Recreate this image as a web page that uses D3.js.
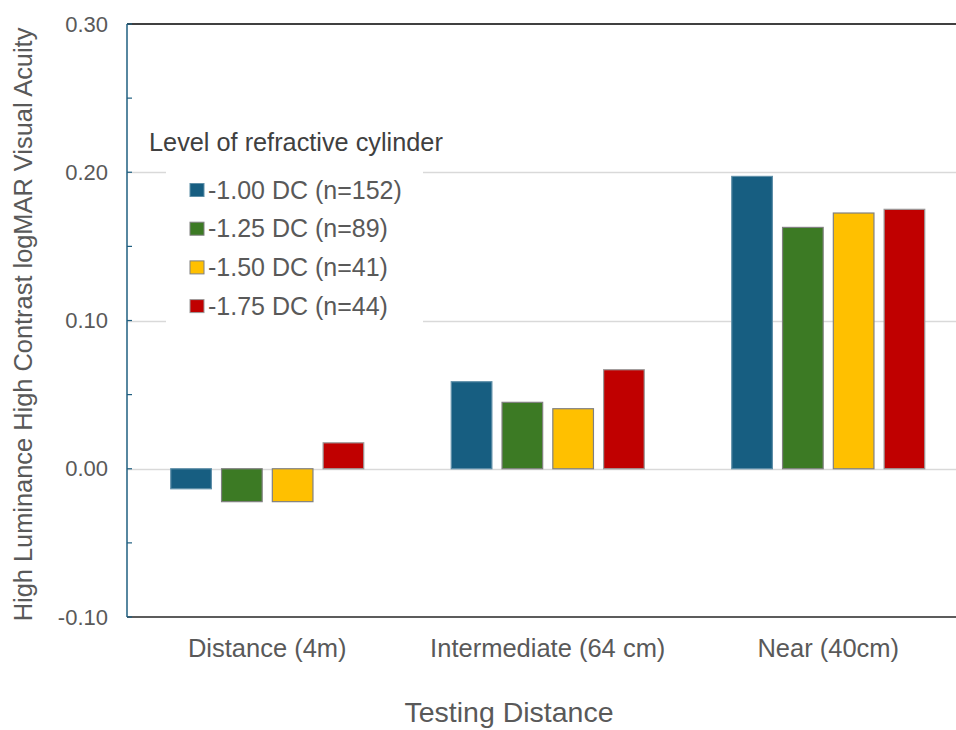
<!DOCTYPE html>
<html>
<head>
<meta charset="utf-8">
<script src="https://cdn.jsdelivr.net/npm/d3@7"></script>
<style>
  body { margin: 0; background: #fff; }
  svg { display: block; font-family: Arial, "Liberation Sans", sans-serif; }
</style>
</head>
<body>
<div id="chart"></div>
<script>
// categories and series
const categories = ['Distance (4m)', 'Intermediate (64 cm)', 'Near (40cm)'];
const seriesNames = ['-1.00 DC (n=152)', '-1.25 DC (n=89)', '-1.50 DC (n=41)', '-1.75 DC (n=44)'];
const seriesColors = ['#175e81', '#3c7a24', '#ffc000', '#c00000'];
const seriesStrokes = ['#5f8fa8', '#808080', '#808080', '#9a9a9a'];
const values = [
  [-0.0135, 0.0587, 0.1972], // -1.00 DC
  [-0.0222, 0.0448, 0.1628], // -1.25 DC
  [-0.0222, 0.0405, 0.1725], // -1.50 DC
  [0.0175, 0.0668, 0.1750], // -1.75 DC
];
const majorTicks = [-0.10, 0.00, 0.10, 0.20, 0.30];
const minorTicks = [-0.05, 0.05, 0.15, 0.25];
const gridTicks = [0.00, 0.10, 0.20];

const width = 956;
const height = 730;
const margin = { top: 24, left: 127, bottom: 113 };
const plotRight = 968.5; // plot area runs off the right edge
const groupWidth = 193;

const svg = d3.select('#chart')
  .append('svg')
  .attr('width', width)
  .attr('height', height);

const y = d3.scaleLinear()
  .domain([-0.10, 0.30])
  .range([height - margin.bottom, margin.top]);

const x0 = d3.scaleBand()
  .domain(categories)
  .range([margin.left, plotRight]);

const x1 = d3.scaleBand()
  .domain(d3.range(seriesNames.length))
  .range([0, groupWidth])
  .paddingInner(0.2)
  .paddingOuter(0);

// gridlines
svg.append('g')
  .selectAll('line')
  .data(gridTicks)
  .join('line')
  .attr('x1', margin.left)
  .attr('x2', width)
  .attr('y1', (d) => Math.round(y(d)) + 0.5)
  .attr('y2', (d) => Math.round(y(d)) + 0.5)
  .attr('stroke', '#d9d9d9')
  .attr('stroke-width', 1.5);

// bars
const groups = svg.append('g')
  .selectAll('g')
  .data(categories)
  .join('g')
  .attr('transform', (d) => `translate(${x0(d) + (x0.bandwidth() - groupWidth) / 2},0)`);

groups.selectAll('rect')
  .data((d, ci) => values.map((s, si) => ({ si, v: s[ci] })))
  .join('rect')
  .attr('x', (d) => x1(d.si))
  .attr('width', x1.bandwidth())
  .attr('y', (d) => y(Math.max(0, d.v)))
  .attr('height', (d) => Math.abs(y(d.v) - y(0)))
  .attr('fill', (d) => seriesColors[d.si])
  .attr('stroke', (d) => seriesStrokes[d.si])
  .attr('stroke-width', 1.2);

// top border
svg.append('line')
  .attr('x1', margin.left).attr('x2', width)
  .attr('y1', margin.top).attr('y2', margin.top)
  .attr('stroke', '#000').attr('stroke-width', 1.5);

// bottom axis line
svg.append('line')
  .attr('x1', margin.left).attr('x2', width)
  .attr('y1', y(-0.10)).attr('y2', y(-0.10))
  .attr('stroke', '#262626').attr('stroke-width', 1.5);

// y axis
const yAxis = svg.append('g');
yAxis.append('line')
  .attr('x1', margin.left).attr('x2', margin.left)
  .attr('y1', margin.top).attr('y2', y(-0.10))
  .attr('stroke', '#1f5f80').attr('stroke-width', 1.5);
yAxis.selectAll('line.tick')
  .data(majorTicks.concat(minorTicks))
  .join('line')
  .attr('class', 'tick')
  .attr('x1', margin.left).attr('x2', margin.left + 5)
  .attr('y1', (d) => y(d)).attr('y2', (d) => y(d))
  .attr('stroke', '#1f5f80').attr('stroke-width', 1.2);
yAxis.selectAll('text')
  .data(majorTicks)
  .join('text')
  .attr('x', 108)
  .attr('y', (d) => y(d))
  .attr('dy', '0.35em')
  .attr('text-anchor', 'end')
  .attr('font-size', 22)
  .attr('fill', '#595959')
  .text((d) => d.toFixed(2));

// x labels
svg.append('g')
  .selectAll('text')
  .data(categories)
  .join('text')
  .attr('x', (d) => x0(d) + x0.bandwidth() / 2)
  .attr('y', 657)
  .attr('text-anchor', 'middle')
  .attr('font-size', 25.5)
  .attr('fill', '#595959')
  .text((d) => d);

// axis titles
svg.append('text')
  .attr('x', 509)
  .attr('y', 722)
  .attr('text-anchor', 'middle')
  .attr('font-size', 28.5)
  .attr('fill', '#595959')
  .text('Testing Distance');

svg.append('text')
  .attr('transform', `translate(32,${y(0.10) + 4}) rotate(-90)`)
  .attr('text-anchor', 'middle')
  .attr('font-size', 25.4)
  .attr('fill', '#595959')
  .text('High Luminance High Contrast logMAR Visual Acuity');

// legend
svg.append('text')
  .attr('x', 149)
  .attr('y', 151)
  .attr('font-size', 25.3)
  .attr('fill', '#404040')
  .text('Level of refractive cylinder');

const legend = svg.append('g');
legend.append('rect')
  .attr('x', 166).attr('y', 167)
  .attr('width', 257).attr('height', 159)
  .attr('fill', '#fff');
const items = legend.selectAll('g')
  .data(seriesNames)
  .join('g')
  .attr('transform', (d, i) => `translate(190,${190 + i * 38.7})`);
items.append('rect')
  .attr('x', 0).attr('y', -6.5)
  .attr('width', 14).attr('height', 13)
  .attr('fill', (d, i) => seriesColors[i])
  .attr('stroke', (d, i) => seriesStrokes[i])
  .attr('stroke-width', 1);
items.append('text')
  .attr('x', 18)
  .attr('dy', '0.35em')
  .attr('font-size', 25)
  .attr('fill', '#595959')
  .text((d) => d);
</script>
</body>
</html>
